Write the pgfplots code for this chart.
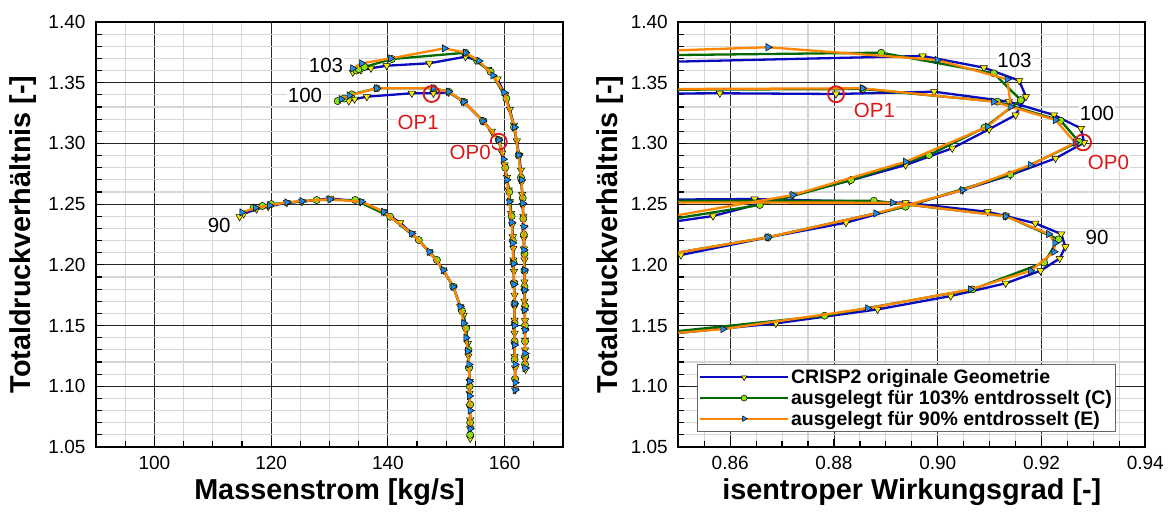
\documentclass[border=0pt]{standalone}
\usepackage{fontspec}
\setmainfont{Liberation Sans}
\usepackage{pgfplots}
\pgfplotsset{compat=1.18}

\definecolor{cblue}{RGB}{10,10,190}
\definecolor{cgreen}{RGB}{0,105,0}
\definecolor{corange}{RGB}{255,135,0}
\definecolor{cyellow}{RGB}{245,235,0}
\definecolor{clime}{RGB}{140,225,20}
\definecolor{ctri}{RGB}{30,140,240}
\definecolor{cred}{RGB}{220,25,25}

\tikzset{
  lab/.style={font=\fontsize{20.5}{22}\selectfont, fill=white, inner sep=1pt},
  oplab/.style={font=\fontsize{20.5}{22}\selectfont, fill=white, inner sep=1pt, text=cred},
}

\pgfplotsset{
  sA/.style={color=cblue, draw=cblue, line width=2.3pt, mark=triangle*, mark size=4.2pt, mark options={rotate=180, fill=cyellow, draw=black, line width=0.5pt, solid}},
  sB/.style={color=cgreen, draw=cgreen, line width=2.3pt, mark=*, mark size=3.6pt, mark options={fill=clime, draw=black, line width=0.5pt, solid}},
  sC/.style={color=corange, draw=corange, line width=2.3pt, mark=triangle*, mark size=4.2pt, mark options={rotate=-90, fill=ctri, draw=black, line width=0.5pt, solid}},
  base/.style={
    scale only axis, width=467pt, height=425pt,
    ymin=1.05, ymax=1.40,
    ytick={1.05,1.10,1.15,1.20,1.25,1.30,1.35,1.40},
    minor ytick={1.06,1.07,1.08,1.09,1.11,1.12,1.13,1.14,1.16,1.17,1.18,1.19,1.21,1.22,1.23,1.24,1.26,1.27,1.28,1.29,1.31,1.32,1.33,1.34,1.36,1.37,1.38,1.39},
    grid=both,
    major grid style={black!85, line width=0.9pt},
    minor grid style={black!16, line width=1.1pt},
    axis line style={line width=2.2pt},
    tick style={black, line width=1.2pt},
    major tick length=8pt, minor tick length=6pt,
    tick align=inside, xtick pos=bottom, ytick pos=left,
    ticklabel style={font=\fontsize{19}{22}\selectfont},
    /pgf/number format/assume math mode=true,
    yticklabel style={/pgf/number format/.cd, fixed, fixed zerofill, precision=2, /tikz/.cd, xshift=-7pt},
    xticklabel style={yshift=-6pt},
    xlabel style={at={(axis description cs:0.5,-0.106)}, anchor=center, font=\fontsize{28.8}{32}\selectfont\bfseries},
    ylabel style={anchor=center, font=\fontsize{28.8}{32}\selectfont\bfseries},
    ylabel={Totaldruckverhältnis [-]},
    clip marker paths=true,
  },
}

\begin{document}
\begin{tikzpicture}
\path[use as bounding box] (0,0) rectangle (1171pt,513pt);

% ---------------- left axis ----------------
\begin{axis}[base, at={(96pt,66pt)}, anchor=south west,
  xmin=90, xmax=170, xtick={100,120,140,160},
  minor xtick={95,105,110,115,125,130,135,145,150,155,165},
  xlabel={Massenstrom [kg/s]},
  ylabel style={at={(axis description cs:-0.156,0.5)}},
]
% CRISP2 original
\addplot[sA, forget plot] coordinates {(134.0,1.3586)(135.4,1.3605)(137.1,1.3619)(139.8,1.3640)(147.1,1.3660)(153.3,1.3714)(155.0,1.3687)(157.2,1.3610)(158.8,1.3530)(160.1,1.3400)(160.9,1.3280)(161.6,1.3150)(162.1,1.3020)(162.5,1.2900)(162.8,1.2780)(162.9,1.2680)(163.0,1.2580)(163.1,1.2490)(163.2,1.2400)(163.3,1.2310)(163.3,1.2220)(163.3,1.2130)(163.4,1.2040)(163.4,1.1950)(163.4,1.1860)(163.4,1.1780)(163.4,1.1700)(163.4,1.1620)(163.5,1.1540)(163.5,1.1460)(163.5,1.1380)(163.5,1.1300)(163.5,1.1220)(163.6,1.1140)};
\addplot[sA, forget plot] coordinates {(133.3,1.3349)(134.3,1.3365)(136.4,1.3385)(144.1,1.3413)(147.8,1.3413)(150.4,1.3421)(153.0,1.3343)(156.3,1.3185)(157.8,1.3100)(159.0,1.3028)(159.6,1.2920)(160.0,1.2822)(160.4,1.2720)(160.7,1.2616)(160.9,1.2520)(161.1,1.2424)(161.3,1.2330)(161.4,1.2231)(161.5,1.2135)(161.5,1.2040)(161.6,1.1945)(161.6,1.1848)(161.7,1.1750)(161.7,1.1655)(161.7,1.1545)(161.7,1.1436)(161.7,1.1340)(161.7,1.1243)(161.8,1.1150)(161.8,1.1051)(161.8,1.0969)};
\addplot[sA, forget plot] coordinates {(114.6,1.2396)(115.3,1.2420)(117.5,1.2460)(119.5,1.2480)(122.7,1.2512)(125.3,1.2520)(130.1,1.2548)(135.3,1.2520)(139.3,1.2437)(142.1,1.2347)(144.1,1.2259)(147.1,1.2108)(149.5,1.1957)(151.2,1.1820)(152.4,1.1655)(153.0,1.1586)(153.4,1.1477)(153.7,1.1353)(153.8,1.1250)(153.9,1.1147)(154.0,1.1040)(154.0,1.0942)(154.0,1.0831)(154.1,1.0722)(154.1,1.0650)(154.1,1.0571)};
% 103% design (C)
\addplot[sB, forget plot] coordinates {(134.6,1.3600)(135.0,1.3612)(136.0,1.3630)(140.7,1.3695)(153.3,1.3747)(157.6,1.3590)(160.3,1.3370)(161.6,1.3133)(162.4,1.2904)(162.8,1.2720)(163.1,1.2550)(163.2,1.2380)(163.3,1.2250)(163.4,1.2090)(163.4,1.1950)(163.4,1.1820)(163.5,1.1660)(163.5,1.1500)(163.5,1.1370)(163.5,1.1250)(163.5,1.1180)};
\addplot[sB, forget plot] coordinates {(131.4,1.3349)(132.5,1.3370)(133.8,1.3404)(138.1,1.3454)(147.8,1.3454)(150.4,1.3426)(153.0,1.3343)(156.3,1.3185)(159.0,1.3028)(160.1,1.2800)(160.8,1.2600)(161.2,1.2400)(161.4,1.2200)(161.5,1.2020)(161.6,1.1850)(161.7,1.1680)(161.7,1.1520)(161.7,1.1370)(161.7,1.1220)(161.8,1.1060)};
\addplot[sB, forget plot] coordinates {(117.0,1.2470)(118.5,1.2485)(120.0,1.2500)(127.8,1.2534)(134.4,1.2534)(140.4,1.2396)(145.3,1.2204)(148.4,1.2040)(151.2,1.1820)(152.7,1.1620)(153.4,1.1477)(153.8,1.1300)(153.9,1.1150)(154.0,1.1000)(154.1,1.0850)(154.1,1.0700)(154.1,1.0600)};
% 90% design (E)
\addplot[sC, forget plot] coordinates {(134.0,1.3618)(135.5,1.3660)(140.5,1.3700)(149.7,1.3783)(153.3,1.3747)(155.6,1.3680)(158.0,1.3560)(159.9,1.3420)(161.7,1.3133)(162.4,1.2904)(162.9,1.2700)(163.1,1.2507)(163.3,1.2314)(163.3,1.2122)(163.4,1.1957)(163.4,1.1792)(163.4,1.1628)(163.5,1.1463)(163.5,1.1271)(163.5,1.1150)};
\addplot[sC, forget plot] coordinates {(132.0,1.3365)(133.4,1.3395)(138.1,1.3454)(147.8,1.3454)(150.4,1.3426)(153.0,1.3343)(156.3,1.3185)(159.0,1.3028)(159.8,1.2870)(160.4,1.2700)(160.8,1.2520)(161.2,1.2350)(161.4,1.2180)(161.5,1.2010)(161.6,1.1840)(161.7,1.1680)(161.7,1.1500)(161.7,1.1340)(161.8,1.1180)(161.8,1.1030)(161.8,1.0969)};
\addplot[sC, forget plot] coordinates {(115.0,1.2432)(117.3,1.2470)(119.7,1.2490)(122.7,1.2515)(125.3,1.2525)(130.1,1.2540)(135.5,1.2520)(139.3,1.2437)(144.1,1.2259)(147.1,1.2108)(149.5,1.1957)(151.2,1.1820)(152.4,1.1655)(153.0,1.1520)(153.4,1.1400)(153.7,1.1290)(153.9,1.1180)(154.0,1.1040)(154.0,1.0920)(154.1,1.0800)(154.1,1.0650)};
% operating points
\addplot[only marks, mark=o, mark size=8pt, cred, mark options={line width=1.8pt}, forget plot] coordinates {(147.5,1.3407)(159.0,1.3014)};
\node[lab] at (axis cs:129.4,1.3646) {103};
\node[lab] at (axis cs:125.8,1.3399) {100};
\node[lab] at (axis cs:111.1,1.2328) {90};
\node[oplab] at (axis cs:145.2,1.3176) {OP1};
\node[oplab] at (axis cs:154.1,1.2929) {OP0};
\end{axis}

% ---------------- right axis ----------------
\begin{axis}[base, at={(678.3pt,66pt)}, anchor=south west,
  xmin=0.85, xmax=0.94, xtick={0.86,0.88,0.90,0.92,0.94},
  minor xtick={0.855,0.865,0.87,0.875,0.885,0.89,0.895,0.905,0.91,0.915,0.925,0.93,0.935},
  xticklabel style={/pgf/number format/.cd, fixed, fixed zerofill, precision=2},
  xlabel={isentroper Wirkungsgrad [-]},
  ylabel style={at={(axis description cs:-0.146,0.5)}},
  legend image code/.code={\draw[mark repeat=2, mark phase=2, #1] plot coordinates {(0pt,0pt) (44pt,0pt) (88pt,0pt)};},
  legend style={at={(0.039,0.035)}, anchor=south west, draw=black!60, line width=1.2pt, fill=white,
    font=\fontsize{19.5}{22}\selectfont\bfseries, inner xsep=2pt, inner ysep=3pt, row sep=1pt,
    /tikz/every even column/.append style={column sep=12pt}},
  legend cell align=left,
]
\addlegendimage{sA, line width=2pt, mark size=3.2pt}
\addlegendentry{CRISP2 originale Geometrie}
\addlegendimage{sB, line width=2pt, mark size=3pt}
\addlegendentry{ausgelegt für 103\% entdrosselt (C)}
\addlegendimage{sC, line width=2pt, mark size=3.2pt}
\addlegendentry{ausgelegt für 90\% entdrosselt (E)}
% CRISP2 original
\addplot[sA, forget plot] coordinates {(0.830,1.1355)(0.8688,1.1518)(0.8884,1.1633)(0.9025,1.1743)(0.9131,1.1848)(0.9198,1.1951)(0.9235,1.2053)(0.9246,1.2149)(0.9238,1.2254)(0.9188,1.2342)(0.9131,1.2402)(0.9096,1.2437)(0.8938,1.2512)(0.8647,1.2542)(0.800,1.2525)};
\addplot[sA, forget plot] coordinates {(0.830,1.1905)(0.8505,1.2081)(0.8673,1.2227)(0.8823,1.2347)(0.8938,1.2484)(0.9048,1.2616)(0.9140,1.2740)(0.9227,1.2877)(0.9282,1.3006)(0.9276,1.3124)(0.9224,1.3234)(0.9137,1.3344)(0.8993,1.3426)(0.8804,1.3407)(0.8580,1.3413)(0.800,1.3400)};
\addplot[sA, forget plot] coordinates {(0.830,1.2240)(0.8567,1.2402)(0.8721,1.2575)(0.8830,1.2693)(0.8938,1.2822)(0.9028,1.2960)(0.9099,1.3117)(0.9150,1.3234)(0.9170,1.3385)(0.9157,1.3517)(0.9089,1.3624)(0.8971,1.3720)(0.800,1.3625)};
% 103% design (C)
\addplot[sB, forget plot] coordinates {(0.830,1.1365)(0.8782,1.1581)(0.9067,1.1798)(0.9205,1.2019)(0.9233,1.2210)(0.9131,1.2402)(0.8877,1.2528)(0.800,1.2528)};
\addplot[sB, forget plot] coordinates {(0.800,1.1740)(0.8673,1.2227)(0.8938,1.2479)(0.9140,1.2745)(0.9272,1.3014)(0.9237,1.3187)(0.9115,1.3344)(0.8855,1.3448)(0.800,1.3435)};
\addplot[sB, forget plot] coordinates {(0.830,1.2250)(0.8657,1.2493)(0.8833,1.2699)(0.8983,1.2904)(0.9090,1.3130)(0.9160,1.3357)(0.9108,1.3577)(0.8891,1.3747)(0.800,1.3704)};
% 90% design (E)
\addplot[sC, forget plot] coordinates {(0.830,1.1370)(0.8586,1.1471)(0.8865,1.1642)(0.9063,1.1798)(0.9179,1.1951)(0.9224,1.2108)(0.9226,1.2180)(0.9214,1.2254)(0.9131,1.2400)(0.8913,1.2512)(0.800,1.2515)};
\addplot[sC, forget plot] coordinates {(0.800,1.1740)(0.8673,1.2227)(0.8881,1.2424)(0.9048,1.2616)(0.9179,1.2822)(0.9265,1.3006)(0.9227,1.3193)(0.9108,1.3344)(0.8855,1.3454)(0.800,1.3440)};
\addplot[sC, forget plot] coordinates {(0.830,1.2260)(0.8721,1.2575)(0.8938,1.2849)(0.9096,1.3138)(0.9141,1.3302)(0.9134,1.3528)(0.8999,1.3687)(0.8673,1.3792)(0.800,1.3695)};
% operating points
\addplot[only marks, mark=o, mark size=8pt, cred, mark options={line width=1.8pt}, forget plot] coordinates {(0.8804,1.3405)(0.9280,1.3009)};
\node[lab] at (axis cs:0.9148,1.3687) {103};
\node[lab] at (axis cs:0.9307,1.3250) {100};
\node[lab] at (axis cs:0.9307,1.2229) {90};
\node[oplab] at (axis cs:0.8878,1.3275) {OP1};
\node[oplab] at (axis cs:0.9329,1.2847) {OP0};
\end{axis}
\end{tikzpicture}
\end{document}
